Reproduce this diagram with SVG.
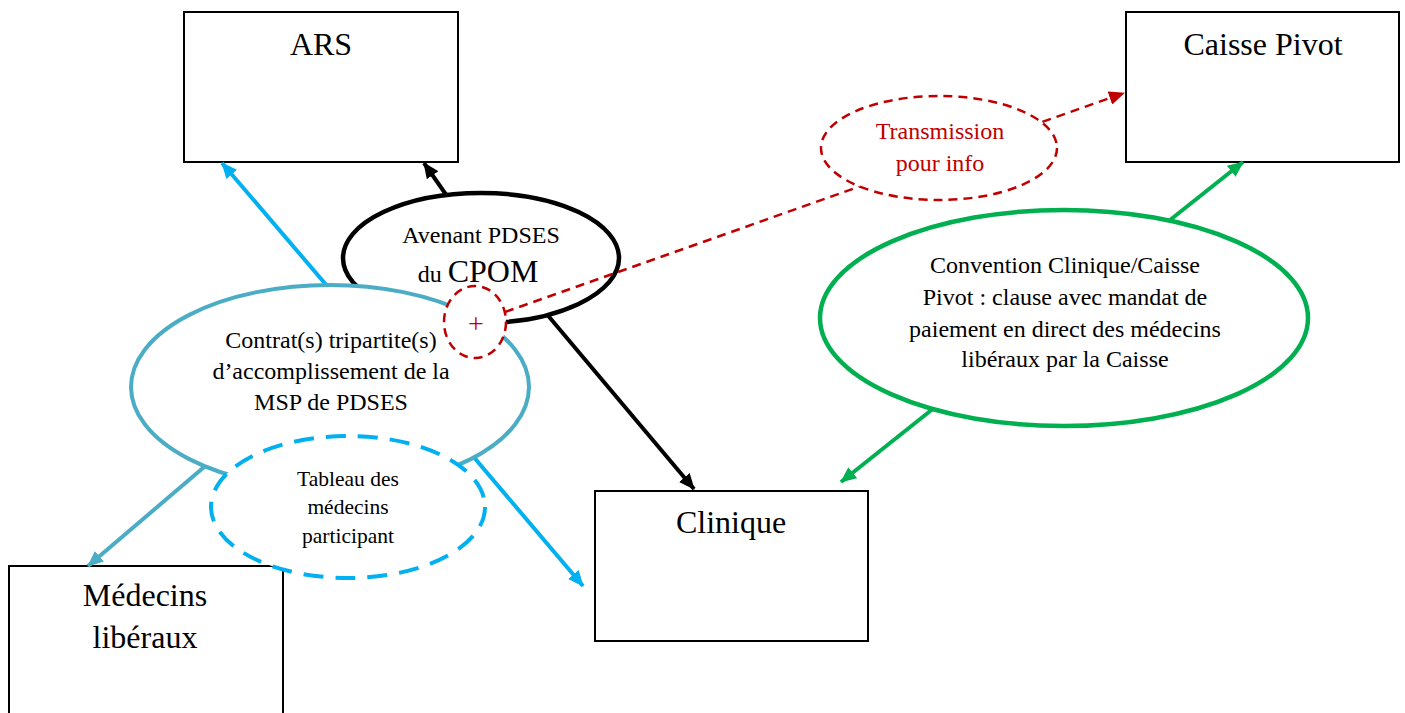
<svg xmlns="http://www.w3.org/2000/svg" width="1405" height="713" viewBox="0 0 1405 713">
<style>
.box{fill:#fff;stroke:#000;stroke-width:2}
text{font-family:"Liberation Serif","Times New Roman",serif;text-anchor:middle;fill:#000}
.big{font-size:32px}
.mid{font-size:24px}
.sm{font-size:21.5px}
.red{fill:#C00000}
.c{fill:none;stroke-width:4}
</style>
<defs>
<marker id="aK" markerUnits="userSpaceOnUse" markerWidth="16" markerHeight="14" refX="15" refY="7" orient="auto"><path d="M0,0 L16,7 L0,14 Z" fill="#000"/></marker>
<marker id="aB" markerUnits="userSpaceOnUse" markerWidth="16" markerHeight="14" refX="15" refY="7" orient="auto"><path d="M0,0 L16,7 L0,14 Z" fill="#00B0F0"/></marker>
<marker id="aT" markerUnits="userSpaceOnUse" markerWidth="16" markerHeight="14" refX="15" refY="7" orient="auto"><path d="M0,0 L16,7 L0,14 Z" fill="#4BACC6"/></marker>
<marker id="aG" markerUnits="userSpaceOnUse" markerWidth="16" markerHeight="14" refX="15" refY="7" orient="auto"><path d="M0,0 L16,7 L0,14 Z" fill="#00B050"/></marker>
<marker id="aR" markerUnits="userSpaceOnUse" markerWidth="16" markerHeight="14" refX="15" refY="7" orient="auto"><path d="M0,0 L16,7 L0,14 Z" fill="#C00000"/></marker>
</defs>

<g id="ars"><rect class="box" x="184" y="12" width="274" height="150"/><text class="big" x="321" y="55">ARS</text></g>
<g id="caisse"><rect class="box" x="1126" y="12" width="273" height="150"/><text class="big" x="1263" y="55">Caisse Pivot</text></g>
<g id="clinique"><rect class="box" x="595" y="491" width="273" height="150"/><text class="big" x="731" y="533">Clinique</text></g>
<g id="medecins"><rect class="box" x="9" y="566" width="274" height="160"/><text class="big" x="145" y="606">Médecins</text><text class="big" x="145" y="648">libéraux</text></g>

<g id="connectors">
<line class="c" x1="447" y1="196" x2="424" y2="163" stroke="#000" marker-end="url(#aK)"/>
<line class="c" x1="545" y1="312" x2="694" y2="489" stroke="#000" marker-end="url(#aK)"/>
<line class="c" stroke-width="3.5" x1="328" y1="287" x2="222" y2="163" stroke="#00B0F0" marker-end="url(#aB)"/>
<line class="c" stroke-width="3.5" x1="210" y1="462" x2="88" y2="566" stroke="#4BACC6" marker-end="url(#aT)"/>
<line class="c" stroke-width="3.5" x1="472" y1="455" x2="583" y2="586" stroke="#00B0F0" marker-end="url(#aB)"/>
<line class="c" x1="1170" y1="220" x2="1243" y2="162" stroke="#00B050" marker-end="url(#aG)"/>
<line class="c" x1="934" y1="408" x2="841" y2="482" stroke="#00B050" marker-end="url(#aG)"/>
</g>

<g id="cpom"><ellipse cx="481" cy="258" rx="138" ry="65" fill="#fff" stroke="#000" stroke-width="4.5"/>
<text class="mid" x="481" y="243">Avenant PDSES</text>
<text x="478" y="282"><tspan font-size="24px">du </tspan><tspan font-size="32px">CPOM</tspan></text></g>

<g id="transmission-line"><line x1="505" y1="312" x2="1124" y2="93" stroke="#C00000" stroke-width="2.5" stroke-dasharray="9,6" marker-end="url(#aR)"/></g>

<g id="contrat"><ellipse cx="330" cy="387" rx="199" ry="102" fill="#fff" stroke="#4BACC6" stroke-width="4"/>
<text class="mid" x="331" y="348">Contrat(s) tripartite(s)</text>
<text class="mid" x="331" y="379">d’accomplissement de la</text>
<text class="mid" x="331" y="410">MSP de PDSES</text></g>

<g id="tableau"><ellipse cx="348" cy="507" rx="137" ry="71" fill="#fff" stroke="#00B0F0" stroke-width="4" stroke-dasharray="20,12"/>
<text class="sm" x="348" y="486">Tableau des</text>
<text class="sm" x="348" y="514">médecins</text>
<text class="sm" x="348" y="543">participant</text></g>

<g id="transmission"><ellipse cx="939" cy="148" rx="118" ry="52" fill="#fff" stroke="#C00000" stroke-width="2.5" stroke-dasharray="9,6"/>
<text class="mid red" x="940" y="139">Transmission</text>
<text class="mid red" x="940" y="171">pour info</text></g>

<g id="plus"><ellipse cx="475" cy="322" rx="31" ry="36" fill="#fff" stroke="#C00000" stroke-width="2.5" stroke-dasharray="9,6"/>
<text class="red" font-size="28px" x="476" y="333">+</text></g>

<g id="convention"><ellipse cx="1064" cy="318" rx="244" ry="108" fill="#fff" stroke="#00B050" stroke-width="4.5"/>
<text class="mid" x="1065" y="273">Convention Clinique/Caisse</text>
<text class="mid" x="1065" y="305">Pivot : clause avec mandat de</text>
<text class="mid" x="1065" y="337">paiement en direct des médecins</text>
<text class="mid" x="1065" y="367">libéraux par la Caisse</text></g>
</svg>
